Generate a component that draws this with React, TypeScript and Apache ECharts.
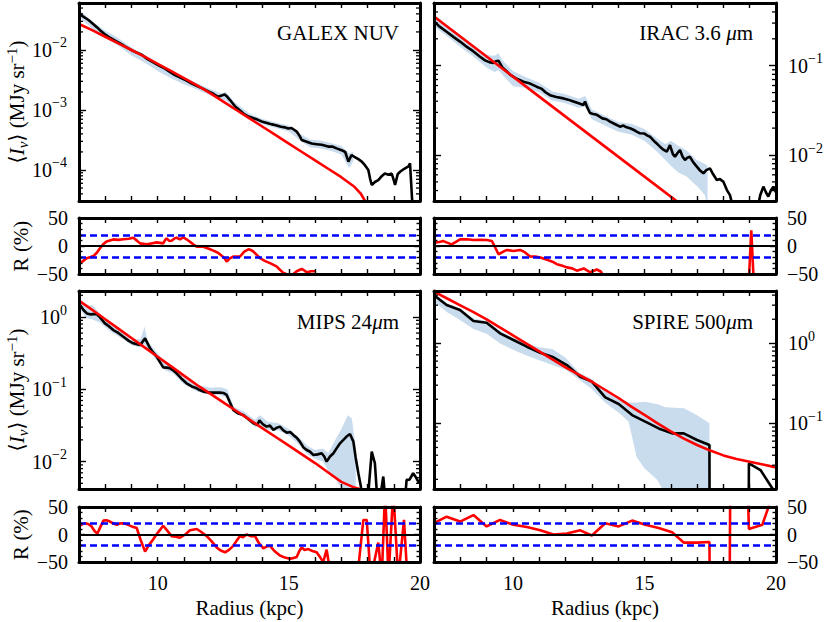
import React, { useEffect, useRef } from "react";
import * as echarts from "echarts";

const FONT = "Liberation Serif, DejaVu Serif, serif";
const BAND = "#c8dcee";

// ---------- data (radius kpc, log10 intensity) ----------
const galexProfile: [number, number][] = [
  [7.0, -1.39], [7.15, -1.44], [7.36, -1.5], [7.55, -1.57], [7.68, -1.62], [7.8, -1.67], [7.99, -1.74],
  [8.2, -1.8], [8.44, -1.86], [8.6, -1.9], [8.75, -1.94], [9.07, -2.02], [9.39, -2.08], [9.6, -2.15],
  [9.8, -2.2], [10.05, -2.26], [10.28, -2.31], [10.45, -2.36], [10.66, -2.42], [10.9, -2.47], [11.1, -2.51], [11.3, -2.56],
  [11.5, -2.6], [11.7, -2.64], [11.93, -2.69], [12.12, -2.73], [12.3, -2.78], [12.44, -2.76], [12.55, -2.74], [12.63, -2.77],
  [12.75, -2.83], [12.88, -2.9], [12.95, -2.94], [13.14, -3.01], [13.3, -3.07], [13.46, -3.11], [13.6, -3.13], [13.8, -3.16],
  [13.96, -3.19], [14.2, -3.22], [14.35, -3.24], [14.47, -3.25], [14.7, -3.28], [14.85, -3.29], [14.98, -3.31], [15.1, -3.3],
  [15.2, -3.33], [15.3, -3.36], [15.42, -3.44], [15.49, -3.5], [15.68, -3.53], [15.87, -3.56], [16.06, -3.57], [16.25, -3.58],
  [16.5, -3.61], [16.65, -3.61], [16.82, -3.64], [17.01, -3.67], [17.15, -3.7], [17.27, -3.86], [17.39, -3.75], [17.5, -3.78],
  [17.65, -3.82], [17.78, -3.86], [17.9, -3.92], [18.03, -4.0], [18.1, -4.15], [18.16, -4.25], [18.28, -4.2], [18.41, -4.17],
  [18.55, -4.1], [18.66, -4.06], [18.8, -4.08], [18.92, -4.06], [18.98, -4.14], [19.05, -4.25], [19.15, -4.07], [19.24, -4.03],
  [19.4, -3.98], [19.56, -3.94], [19.62, -3.89], [19.7, -4.5], [19.8, -5.0],
];
const galexModel: [number, number][] = [
  [7.0, -1.567], [7.5, -1.67], [8.0, -1.78], [8.5, -1.89], [9.0, -2.0], [9.5, -2.11], [10.0, -2.23], [10.5, -2.35],
  [11.0, -2.47], [11.5, -2.59], [12.0, -2.72], [12.5, -2.86], [13.0, -3.0], [13.5, -3.14], [14.0, -3.28], [14.5, -3.42],
  [15.0, -3.56], [15.5, -3.7], [16.0, -3.84], [16.5, -3.98], [17.0, -4.12], [17.5, -4.28], [17.75, -4.4], [17.95, -4.55],
  [18.1, -4.7],
];
const galexBand: [number, number, number][] = [
  [7.0, -1.46, -1.33], [7.5, -1.64, -1.52], [8.0, -1.8, -1.68], [8.5, -1.93, -1.8], [9.0, -2.09, -1.96], [9.5, -2.21, -2.08],
  [10.0, -2.35, -2.22], [10.5, -2.47, -2.35], [11.0, -2.57, -2.45], [11.5, -2.66, -2.55], [12.0, -2.76, -2.65], [12.4, -2.83, -2.72],
  [12.6, -2.84, -2.7], [12.9, -2.97, -2.86], [13.5, -3.16, -3.06], [14.0, -3.24, -3.15], [14.5, -3.3, -3.21], [15.0, -3.36, -3.26],
  [15.4, -3.5, -3.39], [15.8, -3.62, -3.49], [16.2, -3.64, -3.51], [16.6, -3.68, -3.55], [17.0, -3.74, -3.6], [17.3, -3.97, -3.72],
  [17.45, -3.86, -3.7],
];
const galexResidual: [number, number][] = [
  [7.0, -32], [7.15, -27], [7.29, -22], [7.42, -20], [7.55, -18], [7.68, -12], [7.8, -4], [7.92, 3], [8.05, 8], [8.31, 11.8],
  [8.5, 11], [8.69, 12], [8.9, 13], [9.07, 14.7], [9.2, 10], [9.33, 4.7], [9.58, 2.9], [9.8, 5], [9.96, 6.5], [10.21, 4.7],
  [10.3, 12], [10.34, 13.5], [10.45, 9], [10.53, 9.4], [10.65, 14], [10.72, 14.7], [10.85, 12], [10.98, 15.3], [11.1, 12],
  [11.23, 7.6], [11.35, 3], [11.49, -1.2], [11.74, -1.2], [11.95, -5], [12.12, -8.2], [12.3, -12], [12.44, -17.6], [12.55, -22],
  [12.63, -27.6], [12.75, -22], [12.88, -18.8], [13.14, -18.8], [13.3, -10], [13.46, -5.9], [13.55, -7], [13.65, -10],
  [13.78, -16], [13.9, -21.8], [14.1, -27], [14.28, -30.6], [14.53, -36.5], [14.65, -42], [14.79, -48], [14.9, -50],
  [15.04, -54], [15.15, -51], [15.3, -45], [15.49, -41], [15.6, -44], [15.68, -47], [15.85, -45], [16.0, -45],
];

const iracProfile: [number, number][] = [
  [7.0, -0.5], [7.2, -0.56], [7.48, -0.62], [7.75, -0.68], [7.99, -0.73], [8.25, -0.79], [8.5, -0.84], [8.75, -0.9],
  [8.94, -0.94], [9.1, -0.96], [9.26, -0.97], [9.35, -0.95], [9.45, -0.944], [9.6, -1.02], [9.75, -1.06], [9.89, -1.1],
  [10.1, -1.14], [10.25, -1.16], [10.4, -1.18], [10.65, -1.2], [10.9, -1.235], [11.1, -1.26], [11.25, -1.3], [11.41, -1.33],
  [11.65, -1.35], [11.92, -1.366], [12.1, -1.38], [12.3, -1.4], [12.5, -1.42], [12.68, -1.44], [12.74, -1.4], [12.83, -1.47],
  [12.93, -1.53], [13.05, -1.54], [13.19, -1.55], [13.4, -1.59], [13.55, -1.6], [13.69, -1.627], [13.85, -1.65], [14.07, -1.683],
  [14.2, -1.67], [14.32, -1.69], [14.45, -1.7], [14.6, -1.72], [14.72, -1.74], [14.83, -1.757], [15.0, -1.76], [15.1, -1.78],
  [15.21, -1.795], [15.35, -1.84], [15.5, -1.88], [15.59, -1.907], [15.72, -1.94], [15.85, -1.963], [15.97, -1.89], [16.08, -1.99],
  [16.16, -2.02], [16.25, -1.98], [16.35, -1.944], [16.45, -2.02], [16.54, -2.056], [16.63, -2.03], [16.73, -2.02], [16.85, -2.08],
  [16.99, -2.13], [17.1, -2.17], [17.24, -2.205], [17.35, -2.17], [17.49, -2.15], [17.6, -2.21], [17.75, -2.28], [17.87, -2.27],
  [18.0, -2.3], [18.13, -2.39], [18.25, -2.45], [18.38, -2.6], [19.3, -2.6], [19.4, -2.45], [19.52, -2.354], [19.62, -2.42],
  [19.71, -2.466], [19.8, -2.4], [19.9, -2.354], [20.0, -2.42],
];
const iracModel: [number, number][] = [
  [7.0, -0.45], [9.0, -0.898], [11.0, -1.346], [13.0, -1.794], [15.0, -2.242], [17.0, -2.69],
];
const iracBand: [number, number, number][] = [
  [7.0, -0.56, -0.42], [7.5, -0.67, -0.55], [8.0, -0.79, -0.67], [8.5, -0.9, -0.78], [9.0, -1.02, -0.88], [9.3, -1.07, -0.89],
  [9.45, -1.05, -0.86], [9.6, -1.1, -0.94], [10.0, -1.23, -1.06], [10.5, -1.25, -1.13], [11.0, -1.3, -1.19], [11.5, -1.39, -1.29],
  [12.0, -1.42, -1.32], [12.5, -1.47, -1.37], [12.75, -1.46, -1.34], [13.0, -1.6, -1.49], [13.5, -1.67, -1.56], [14.0, -1.74, -1.63],
  [14.5, -1.77, -1.65], [15.0, -1.84, -1.71], [15.5, -1.97, -1.82], [15.8, -2.06, -1.88], [16.0, -2.12, -1.84], [16.3, -2.2, -1.9],
  [16.6, -2.24, -1.95], [17.0, -2.35, -2.06], [17.3, -2.45, -2.1], [17.4, -2.6, -2.12],
];
const iracResidual: [number, number][] = [
  [7.0, 5.9], [7.2, 7], [7.36, 8.8], [7.5, 6], [7.67, 2.9], [7.85, 8], [7.99, 11.8], [8.25, 12], [8.5, 10.6], [8.75, 11],
  [9.0, 10.6], [9.2, 8.8], [9.3, 0], [9.45, -14.7], [9.6, -11], [9.77, -7], [10.02, -8.8], [10.27, -7], [10.45, -11],
  [10.65, -18.8], [10.85, -19], [11.04, -20.6], [11.3, -24.7], [11.5, -28], [11.67, -32.4], [11.85, -35], [12.05, -38.2],
  [12.25, -40], [12.43, -44], [12.69, -40], [12.94, -47], [13.19, -42], [13.35, -46], [13.45, -55], [18.95, -80],
  [19.06, 28], [19.17, -80],
];

const mipsProfile: [number, number][] = [
  [7.0, 0.189], [7.17, 0.097], [7.3, 0.05], [7.42, 0.037], [7.55, 0.04], [7.67, 0.041], [7.8, -0.005], [7.99, -0.088],
  [8.15, -0.13], [8.31, -0.18], [8.5, -0.22], [8.69, -0.272], [8.9, -0.33], [9.07, -0.364], [9.2, -0.375], [9.33, -0.387],
  [9.52, -0.295], [9.71, -0.433], [9.85, -0.5], [9.96, -0.548], [10.1, -0.63], [10.21, -0.696], [10.35, -0.7], [10.47, -0.71],
  [10.6, -0.74], [10.72, -0.779], [10.9, -0.85], [11.1, -0.917], [11.3, -0.96], [11.49, -0.986], [11.6, -1.01], [11.74, -1.032],
  [12.0, -1.046], [12.2, -1.045], [12.37, -1.046], [12.5, -1.05], [12.63, -1.078], [12.75, -1.18], [12.88, -1.286], [13.05, -1.33],
  [13.26, -1.355], [13.45, -1.41], [13.65, -1.47], [13.8, -1.49], [13.88, -1.43], [14.0, -1.48], [14.15, -1.516], [14.28, -1.5],
  [14.41, -1.562], [14.55, -1.53], [14.66, -1.516], [14.8, -1.57], [14.92, -1.6], [15.05, -1.59], [15.17, -1.631], [15.3, -1.67],
  [15.42, -1.724], [15.55, -1.8], [15.68, -1.839], [15.8, -1.86], [15.93, -1.908], [16.1, -1.9], [16.25, -1.885], [16.35, -1.93],
  [16.44, -2.0], [16.57, -1.93], [16.7, -1.885], [16.85, -1.8], [16.95, -1.747], [17.08, -1.7], [17.2, -1.654], [17.33, -1.618],
  [17.46, -1.724], [17.55, -1.95], [17.65, -2.161], [17.75, -2.35], [17.84, -2.8], [17.97, -2.8], [18.06, -2.3], [18.16, -1.862],
  [18.28, -2.023], [18.35, -2.4], [18.41, -2.8], [18.5, -2.45], [18.6, -2.207], [18.67, -2.5], [18.73, -2.8], [19.36, -2.8],
  [19.49, -2.253], [19.6, -2.25], [19.74, -2.161], [19.85, -2.22], [19.97, -2.3],
];
const mipsModel: [number, number][] = [
  [7.0, 0.226], [7.5, 0.1], [8.0, -0.03], [8.5, -0.16], [9.0, -0.29], [9.5, -0.42], [10.0, -0.55], [10.5, -0.68],
  [11.0, -0.81], [11.5, -0.94], [12.0, -1.06], [12.5, -1.18], [13.0, -1.3], [13.5, -1.42], [14.0, -1.54], [14.5, -1.66],
  [15.0, -1.78], [15.5, -1.9], [16.0, -2.02], [16.5, -2.15], [17.0, -2.28], [17.5, -2.36], [18.0, -2.41],
];
const mipsBand: [number, number, number][] = [
  [7.0, 0.12, 0.25], [7.3, -0.02, 0.15], [7.5, -0.03, 0.17], [7.8, -0.08, 0.05], [8.2, -0.2, -0.1], [8.7, -0.31, -0.23],
  [9.0, -0.39, -0.32], [9.35, -0.42, -0.3], [9.5, -0.37, -0.13], [9.62, -0.45, -0.34], [10.0, -0.62, -0.5], [10.3, -0.74, -0.63],
  [10.6, -0.78, -0.68], [11.0, -0.93, -0.84], [11.5, -1.03, -0.94], [12.0, -1.08, -0.98], [12.4, -1.08, -0.97], [12.65, -1.12, -1.0],
  [12.9, -1.32, -1.24], [13.3, -1.39, -1.31], [13.7, -1.52, -1.42], [13.9, -1.52, -1.36], [14.2, -1.56, -1.45], [14.6, -1.57, -1.47],
  [15.0, -1.64, -1.55], [15.4, -1.77, -1.67], [15.7, -1.9, -1.78], [16.0, -1.96, -1.84], [16.3, -2.0, -1.82], [16.5, -2.13, -1.88],
  [16.8, -2.25, -1.68], [17.0, -2.38, -1.55], [17.25, -2.4, -1.36], [17.4, -2.42, -1.4], [17.55, -2.6, -1.8],
];
const mipsResidual: [number, number][] = [
  [7.0, 14], [7.1, 18], [7.23, 20.6], [7.35, 19], [7.48, 14.7], [7.6, 6], [7.7, 1.8], [7.8, 12], [7.93, 25.3], [8.05, 26],
  [8.18, 23.5], [8.31, 20], [8.44, 17.6], [8.55, 20], [8.69, 20.6], [8.85, 18], [9.01, 14.7], [9.2, 11.8], [9.35, -10],
  [9.52, -31.2], [9.65, -20], [9.83, -8.8], [10.0, 3], [10.21, 15.9], [10.35, 8], [10.53, -2.9], [10.7, -4], [10.85, -5.9],
  [11.05, 0], [11.23, 7.6], [11.49, 10], [11.65, 5], [11.87, -2.9], [12.05, -12], [12.25, -23.5], [12.4, -29], [12.57, -32.4],
  [12.72, -28], [12.88, -20.6], [13.0, -12], [13.14, -2.9], [13.25, -5], [13.39, 0], [13.55, -3], [13.71, -2.9], [13.85, -15],
  [14.03, -25.3], [14.15, -22], [14.28, -20.6], [14.45, -30], [14.66, -38.2], [14.85, -42], [15.04, -44], [15.15, -43],
  [15.3, -41], [15.4, -30], [15.49, -23.5], [15.6, -28], [15.74, -26.5], [15.9, -30], [16.06, -32.4], [16.2, -42], [16.31, -50],
  [16.38, -38], [16.44, -27.6], [16.5, -45], [16.57, -60], [17.65, -60], [17.84, 26.5], [17.97, 26.5], [18.12, -80],
  [18.41, -14.7], [18.54, -80], [18.67, 80], [18.8, -80], [18.98, 80], [19.17, -80], [19.39, 26.5], [19.52, -80], [19.8, -80],
];

const spireProfile: [number, number][] = [
  [7.0, 0.6], [7.48, 0.479], [7.99, 0.417], [8.5, 0.279], [9.0, 0.258], [9.51, 0.125], [10.02, 0.042], [10.53, -0.042],
  [11.04, -0.117], [11.54, -0.175], [12.05, -0.271], [12.56, -0.417], [13.0, -0.479], [13.51, -0.675], [14.02, -0.758],
  [14.53, -0.896], [15.03, -0.979], [15.54, -1.063], [16.05, -1.125], [16.49, -1.125], [17.0, -1.208], [17.47, -1.271],
  [17.48, -3.0], [18.95, -3.0], [18.97, -1.5], [19.41, -1.583], [19.92, -1.842], [20.0, -1.9],
];
const spireModel: [number, number][] = [
  [7.0, 0.646], [7.5, 0.56], [8.0, 0.475], [8.5, 0.39], [9.0, 0.3], [9.5, 0.2], [10.0, 0.1], [10.5, 0.0], [11.0, -0.1],
  [11.5, -0.2], [12.0, -0.3], [12.5, -0.39], [13.0, -0.48], [13.5, -0.58], [14.0, -0.68], [14.5, -0.79], [15.0, -0.895],
  [15.5, -1.0], [16.0, -1.1], [16.5, -1.19], [17.0, -1.27], [17.5, -1.34], [18.0, -1.4], [18.5, -1.445], [19.0, -1.48],
  [19.5, -1.515], [20.0, -1.55],
];
const spireBand: [number, number, number][] = [
  [7.0, 0.52, 0.63], [7.5, 0.39, 0.5], [8.0, 0.29, 0.43], [8.5, 0.18, 0.31], [9.0, 0.12, 0.28], [9.5, 0.0, 0.16],
  [10.0, -0.08, 0.07], [10.5, -0.15, 0.0], [11.0, -0.21, -0.05], [11.5, -0.27, -0.07], [12.0, -0.33, -0.18], [12.5, -0.45, -0.36],
  [13.0, -0.57, -0.45], [13.5, -0.74, -0.6], [14.0, -0.86, -0.68], [14.4, -0.98, -0.74], [14.7, -1.42, -0.74], [15.0, -1.56, -0.73],
  [15.5, -1.71, -0.76], [15.8, -1.9, -0.8], [16.5, -2.5, -0.81], [17.0, -2.5, -0.9], [17.47, -2.5, -1.0],
];
const spireResidual: [number, number][] = [
  [7.0, 20.6], [7.48, 32.4], [7.99, 23.5], [8.5, 35.3], [9.0, 14.7], [9.51, 26.5], [10.02, 17.6], [10.53, 13.5], [11.04, 7.6],
  [11.54, 0], [12.05, 1.8], [12.56, 7.6], [13.0, -1.8], [13.51, 20.6], [14.02, 14.7], [14.53, 25.3], [15.03, 17.6],
  [15.54, 11.8], [16.05, 4.1], [16.49, -14.7], [17.0, -14.7], [17.47, -13.5], [17.48, -80], [18.24, -80], [18.26, 80],
  [18.93, 80], [18.97, 10], [19.48, 17.6], [19.67, 44], [19.8, 62],
];

const xTickLabels = [10, 15, 20];
const residualTicks = [-50, 0, 50];
const residualLimit = 20;

// ---------- layout ----------
const mains = [
  { profile: galexProfile, model: galexModel, band: galexBand, logMin: -4.517, logMax: -1.217, side: "left", grid: { left: 79, top: 3, width: 341, height: 198 } },
  { profile: iracProfile, model: iracModel, band: iracBand, logMin: -2.515, logMax: -0.298, side: "right", grid: { left: 434, top: 3, width: 342, height: 198 } },
  { profile: mipsProfile, model: mipsModel, band: mipsBand, logMin: -2.379, logMax: 0.36, side: "left", grid: { left: 79, top: 291, width: 341, height: 198 } },
  { profile: spireProfile, model: spireModel, band: spireBand, logMin: -1.82, logMax: 0.654, side: "right", grid: { left: 434, top: 291, width: 342, height: 198 } },
];
const residuals = [
  { data: galexResidual, side: "left", xLabels: false, grid: { left: 79, top: 218, width: 341, height: 56 } },
  { data: iracResidual, side: "right", xLabels: false, grid: { left: 434, top: 218, width: 342, height: 56 } },
  { data: mipsResidual, side: "left", xLabels: true, grid: { left: 79, top: 507, width: 341, height: 55 } },
  { data: spireResidual, side: "right", xLabels: true, grid: { left: 434, top: 507, width: 342, height: 55 } },
];

const P = (l: number) => Math.pow(10, l);
const AXIS_LINE = { show: true, onZero: false, lineStyle: { color: "#000", width: 3 } };
const TICK_STYLE = { color: "#000", width: 1.4 };

function logLabel(v: number) {
  const l = Math.log10(v);
  const e = Math.round(l);
  if (Math.abs(l - e) > 0.02) return "";
  return `{b|10}{s|${e < 0 ? "\u2212" : ""}${Math.abs(e)}}`;
}
const LOG_RICH = {
  b: { fontSize: 20, fontFamily: FONT, color: "#000", lineHeight: 28 },
  s: { fontSize: 14, fontFamily: FONT, color: "#000", lineHeight: 14, verticalAlign: "top" },
};

function xAxesFor(gridIndex: number, showLabels: boolean) {
  const base = {
    type: "value", gridIndex, min: 7, max: 20, interval: 1, z: 10,
    axisLine: AXIS_LINE,
    axisTick: { show: true, inside: true, length: 5, lineStyle: TICK_STYLE },
    splitLine: { show: false },
  };
  return [
    {
      ...base, position: "bottom",
      axisLabel: {
        show: showLabels, margin: 11, showMinLabel: true, showMaxLabel: true,
        formatter: (v: number) => (xTickLabels.includes(v) ? `{n|${v}}` : ""),
        rich: { n: { fontSize: 20, fontFamily: FONT, color: "#000" } },
      },
    },
    { ...base, position: "top", axisLabel: { show: false } },
  ];
}

function logYAxes(gridIndex: number, m: any) {
  const base = {
    type: "log", logBase: 10, gridIndex, min: P(m.logMin), max: P(m.logMax), z: 10,
    axisLine: AXIS_LINE,
    axisTick: { show: true, inside: true, length: 7, lineStyle: TICK_STYLE },
    splitLine: { show: false },
  };
  return ["left", "right"].map((pos) => ({
    ...base, position: pos,
    axisLabel: { show: m.side === pos, margin: 12, formatter: logLabel, rich: LOG_RICH, showMinLabel: true, showMaxLabel: true },
  }));
}

function resYAxes(gridIndex: number, r: any) {
  const base = {
    type: "value", gridIndex, min: residualTicks[0], max: residualTicks[2], interval: 50, z: 10,
    axisLine: AXIS_LINE,
    axisTick: { show: true, inside: true, length: 6, lineStyle: TICK_STYLE },
    minorTick: { show: true, splitNumber: 5, length: 3.5, lineStyle: TICK_STYLE },
    splitLine: { show: false },
  };
  return ["left", "right"].map((pos) => ({
    ...base, position: pos,
    axisLabel: {
      show: r.side === pos, margin: 11, showMinLabel: true, showMaxLabel: true,
      formatter: (v: number) => `{n|${v < 0 ? "\u2212" + Math.abs(v) : String(v)}}`,
      rich: { n: { fontSize: 20, fontFamily: FONT, color: "#000" } },
    },
  }));
}

function minorLogValues(lmin: number, lmax: number) {
  const out: number[] = [];
  for (let n = Math.floor(lmin); n <= Math.ceil(lmax); n++) {
    for (let k = 2; k <= 9; k++) {
      const l = n + Math.log10(k);
      if (l > lmin && l < lmax) out.push(k * Math.pow(10, n));
    }
  }
  return out;
}

function buildOption() {
  const grid: any[] = [];
  const xAxis: any[] = [];
  const yAxis: any[] = [];
  const series: any[] = [];

  mains.forEach((m, i) => {
    grid.push({ ...m.grid, containLabel: false, outerBoundsMode: "none" });
    xAxis.push(...xAxesFor(i, false));
    yAxis.push(...logYAxes(i, m));
    const ax = { xAxisIndex: 2 * i, yAxisIndex: 2 * i };
    const band = m.band;
    series.push({
      type: "custom", ...ax, clip: true, silent: true, z: 1,
      data: band.map((r) => [r[0], P(r[2])]),
      renderItem: (params: any, api: any) => {
        if (params.dataIndex !== 0) return null;
        const top = band.map((r) => api.coord([r[0], P(r[2])]));
        const bot = band.map((r) => api.coord([r[0], P(r[1])])).reverse();
        return { type: "polygon", shape: { points: top.concat(bot) }, style: { fill: BAND, stroke: null } };
      },
    });
    series.push({
      type: "line", ...ax, z: 3, silent: true, showSymbol: false, symbol: "none", clip: true,
      lineStyle: { color: "#000", width: 2.6 },
      data: m.profile.map((p) => [p[0], P(p[1])]),
    });
    series.push({
      type: "line", ...ax, z: 4, silent: true, showSymbol: false, symbol: "none", clip: true,
      lineStyle: { color: "#ff0000", width: 2.6 },
      data: m.model.map((p) => [p[0], P(p[1])]),
    });
    series.push({
      type: "custom", ...ax, silent: true, z: 12,
      data: minorLogValues(m.logMin, m.logMax).map((v) => [7, v]),
      renderItem: (params: any, api: any) => {
        const v = api.value(1);
        const a = api.coord([7, v]);
        const b = api.coord([20, v]);
        return {
          type: "group",
          children: [
            { type: "line", shape: { x1: a[0], y1: a[1], x2: a[0] + 4, y2: a[1] }, style: { stroke: "#000", lineWidth: 1.3 } },
            { type: "line", shape: { x1: b[0] - 4, y1: b[1], x2: b[0], y2: b[1] }, style: { stroke: "#000", lineWidth: 1.3 } },
          ],
        };
      },
    });
  });

  residuals.forEach((r, j) => {
    const g = 4 + j;
    grid.push({ ...r.grid, containLabel: false, outerBoundsMode: "none" });
    xAxis.push(...xAxesFor(g, r.xLabels));
    yAxis.push(...resYAxes(g, r));
    series.push({
      type: "line", xAxisIndex: 2 * g, yAxisIndex: 2 * g, z: 4, silent: true, showSymbol: false, symbol: "none", clip: true,
      lineStyle: { color: "#ff0000", width: 2.6 },
      data: r.data,
      markLine: {
        silent: true, symbol: ["none", "none"], label: { show: false }, animation: false,
        emphasis: { disabled: true },
        data: [
          { yAxis: 0, lineStyle: { color: "#000", width: 2, type: "solid" } },
          { yAxis: residualLimit, lineStyle: { color: "#0000ff", width: 2.5, type: [7, 4] } },
          { yAxis: -residualLimit, lineStyle: { color: "#0000ff", width: 2.5, type: [7, 4] } },
        ],
      },
    });
  });

  const tRich = {
    t: { fontSize: 21, fontFamily: FONT, color: "#000", lineHeight: 26 },
    it: { fontSize: 21, fontFamily: FONT, fontStyle: "italic", color: "#000", lineHeight: 26 },
    sub: { fontSize: 15, fontFamily: FONT, fontStyle: "italic", color: "#000", lineHeight: 14, verticalAlign: "bottom" },
    sup: { fontSize: 15, fontFamily: FONT, color: "#000", lineHeight: 14, verticalAlign: "top" },
  };
  const rotText = (x: number, y: number, text: string) => ({
    type: "text", x, y, rotation: Math.PI / 2, silent: true, z: 20,
    style: {
      text, rich: tRich, fill: "#000", fontSize: 21, fontFamily: FONT,
      align: "center", verticalAlign: "middle", textAlign: "center", textVerticalAlign: "middle",
    },
  });
  const plainText = (x: number, y: number, text: string, align: string) => ({
    type: "text", x, y, silent: true, z: 20,
    style: {
      text, rich: tRich, fill: "#000", fontSize: 21, fontFamily: FONT,
      align, verticalAlign: "middle", textAlign: align, textVerticalAlign: "middle",
    },
  });
  const yLab = "{t|\u27e8}{it|I}{sub|\u03bd}{t|\u27e9 (MJy sr}{sup|\u22121}{t|)}";

  const graphic = [
    rotText(17, 102, yLab),
    rotText(17, 390, yLab),
    rotText(21, 246, "{t|R (%)}"),
    rotText(21, 534.5, "{t|R (%)}"),
    plainText(249.5, 608, "{t|Radius (kpc)}", "center"),
    plainText(605, 608, "{t|Radius (kpc)}", "center"),
    plainText(399, 33, "{t|GALEX NUV}", "right"),
    plainText(753, 33, "{t|IRAC 3.6 }{it|\u03bc}{t|m}", "right"),
    plainText(399, 322, "{t|MIPS 24}{it|\u03bc}{t|m}", "right"),
    plainText(753, 322, "{t|SPIRE 500}{it|\u03bc}{t|m}", "right"),
  ];

  return {
    animation: false,
    backgroundColor: "#fff",
    textStyle: { fontFamily: FONT },
    grid, xAxis, yAxis, series, graphic,
  };
}

export default function App() {
  const ref = useRef<HTMLDivElement>(null);
  useEffect(() => {
    if (!ref.current) return;
    const chart = echarts.init(ref.current, null, { renderer: "svg" });
    chart.setOption(buildOption() as any);
    return () => chart.dispose();
  }, []);
  return (
    <div
      ref={ref}
      style={{ position: "fixed", left: 0, top: 0, width: 830, height: 622, background: "#fff" }}
    />
  );
}
